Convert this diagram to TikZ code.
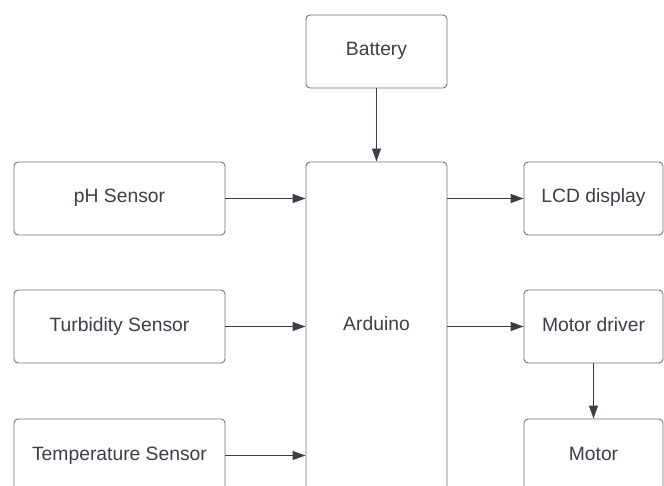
\documentclass[tikz,border=0pt]{standalone}
\usepackage{fontspec}
\setmainfont{Liberation Sans}
\usetikzlibrary{arrows.meta}
\definecolor{bordc}{HTML}{6E727A}
\definecolor{txtc}{HTML}{3A4049}
\definecolor{arrc}{HTML}{3A4049}
\begin{document}
\begin{tikzpicture}[x=1pt,y=-1pt,
  box/.style={draw=bordc, line width=0.9pt, rounded corners=4pt, fill=white,
    text=txtc, font=\fontsize{19.3}{23}\selectfont, inner sep=0pt, anchor=center,
    text height=13pt, text depth=4pt},
  arr/.style={draw=arrc, line width=0.9pt, -{Triangle[length=13pt,width=9pt]}}]
\useasboundingbox (0,0) rectangle (664,486);
\clip (0,0) rectangle (664,486);
\node[box, minimum width=141pt, minimum height=73pt] (bat) at (376.5,51.5) {Battery};
\node[box, minimum width=141pt, minimum height=328pt] (ard) at (376.5,326) {Arduino};
\node[box, minimum width=211pt, minimum height=73pt] (ph) at (119.5,198.5) {pH Sensor};
\node[box, minimum width=211pt, minimum height=73pt] (tur) at (119.5,326.5) {Turbidity Sensor};
\node[box, minimum width=211pt, minimum height=73pt] (tem) at (119.5,455.5) {Temperature Sensor};
\node[box, minimum width=139pt, minimum height=73pt] (lcd) at (593.5,198.5) {LCD display};
\node[box, minimum width=139pt, minimum height=73pt] (md) at (593.5,326.5) {Motor driver};
\node[box, minimum width=139pt, minimum height=73pt] (mot) at (593.5,455.5) {Motor};
\draw[arr] (bat.south) -- (ard.north);
\draw[arr] (ph.east) -- (ph.east -| ard.west);
\draw[arr] (tur.east) -- (tur.east -| ard.west);
\draw[arr] (tem.east) -- (tem.east -| ard.west);
\draw[arr] (lcd.west -| ard.east) -- (lcd.west);
\draw[arr] (md.west -| ard.east) -- (md.west);
\draw[arr] (md.south) -- (mot.north);
\end{tikzpicture}
\end{document}
